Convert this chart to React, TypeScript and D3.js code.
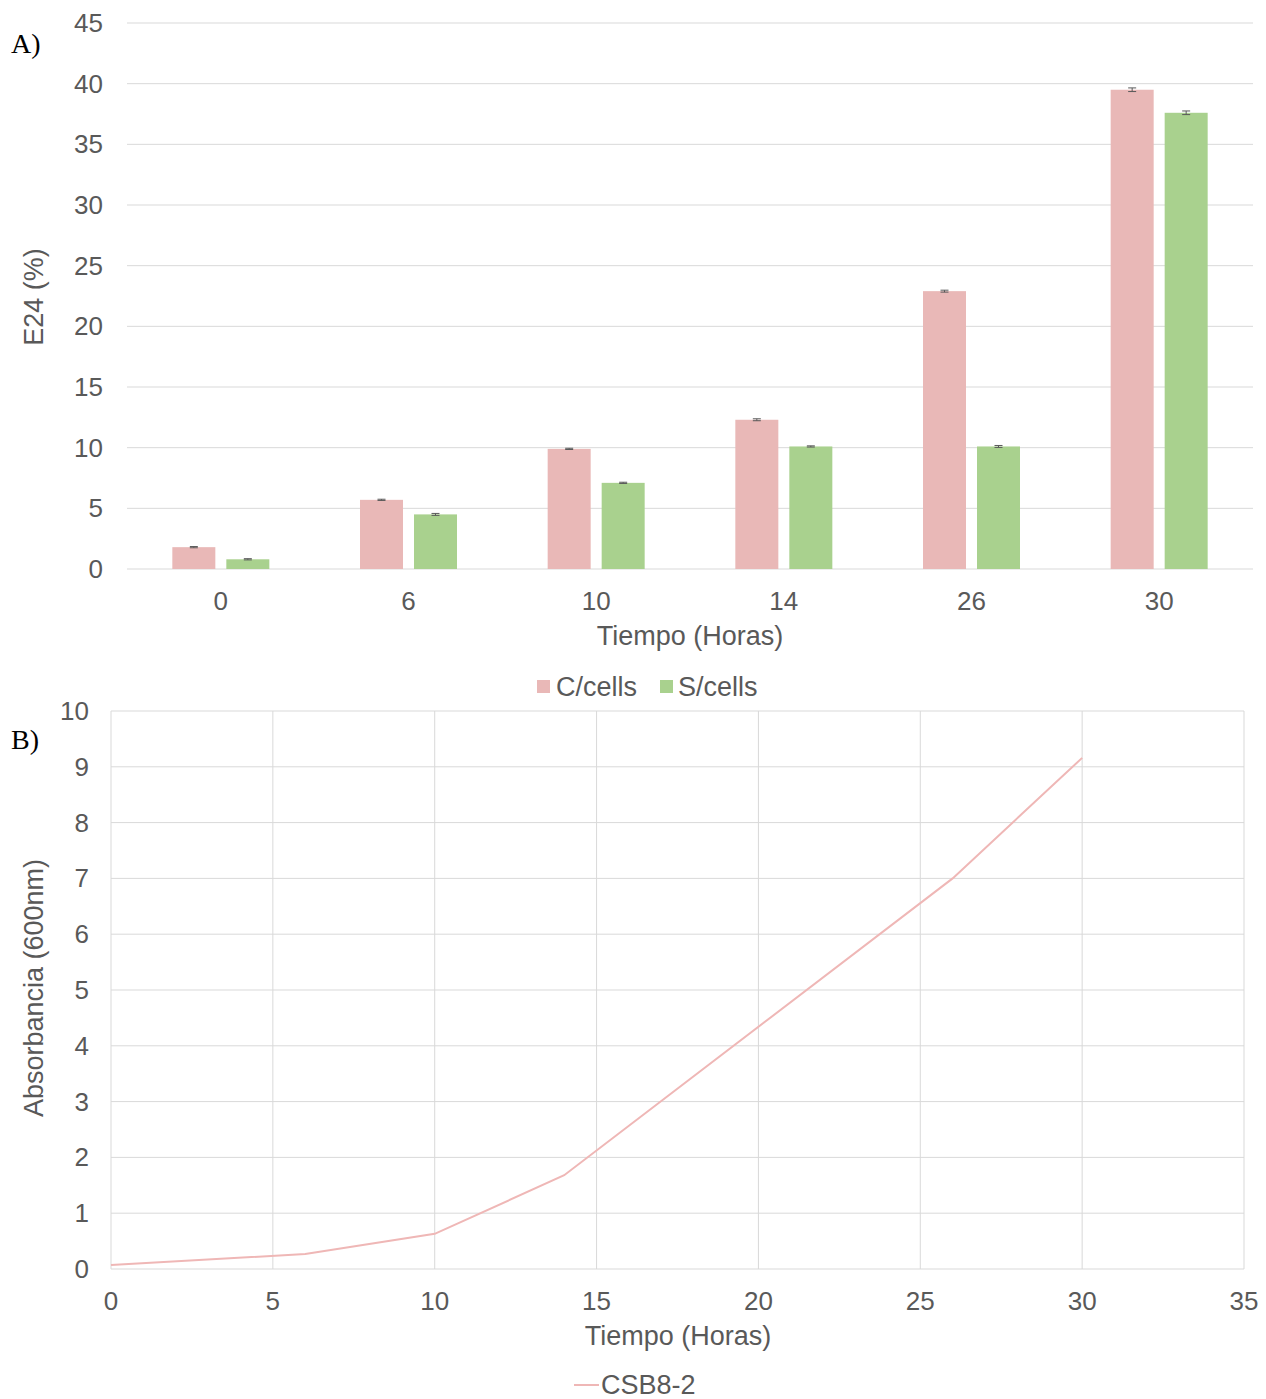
import React from "react";
import * as d3 from "d3";

const categories = ["0", "6", "10", "14", "26", "30"];
const cCells = [1.8, 5.7, 9.9, 12.3, 22.9, 39.5];
const sCells = [0.8, 4.5, 7.1, 10.1, 10.1, 37.6];
const cErr = [0.05, 0.05, 0.05, 0.08, 0.08, 0.15];
const sErr = [0.05, 0.08, 0.05, 0.05, 0.08, 0.15];
const yTicksA = [0, 5, 10, 15, 20, 25, 30, 35, 40, 45];

const timeB = [0, 6, 10, 14, 26, 30];
const absB = [0.07, 0.27, 0.63, 1.68, 7.0, 9.16];
const xTicksB = [0, 5, 10, 15, 20, 25, 30, 35];
const yTicksB = [0, 1, 2, 3, 4, 5, 6, 7, 8, 9, 10];

const PINK = "#e9b8b7";
const GREEN = "#a9d18e";
const GRID = "#d9d9d9";
const TXT = "#595959";
const FONT = "'Liberation Sans', Arial, sans-serif";
const TICK = 26;
const TITLE = 27;

export default function App() {
  // Chart A
  const aL = 127, aR = 1253, aTop = 23, aBot = 569;
  const xA = d3.scaleBand().domain(categories).range([aL, aR]).paddingInner(0).paddingOuter(0);
  const yA = d3.scaleLinear().domain([0, 45]).range([aBot, aTop]);
  const barW = 43;
  const gap = 11;

  // Chart B
  const bL = 111, bR = 1244, bTop = 711, bBot = 1269;
  const xB = d3.scaleLinear().domain([0, 35]).range([bL, bR]);
  const yB = d3.scaleLinear().domain([0, 10]).range([bBot, bTop]);
  const line = d3.line<number>().x((_, i) => xB(timeB[i])).y((d) => yB(d));

  const errBar = (cx: number, v: number, e: number, key: string) => (
    <g key={key} stroke="#595959" strokeWidth={1}>
      <line x1={cx} x2={cx} y1={yA(v + e)} y2={yA(v - e)} />
      <line x1={cx - 4} x2={cx + 4} y1={yA(v + e)} y2={yA(v + e)} />
      <line x1={cx - 4} x2={cx + 4} y1={yA(v - e)} y2={yA(v - e)} />
    </g>
  );

  return (
    <svg width={1266} height={1399} style={{ position: "absolute", left: 0, top: 0, background: "#fff" }} fontFamily={FONT}>
      <rect x={0} y={0} width={1266} height={1399} fill="#fff" />
      {/* ===== Chart A ===== */}
      <text x={11} y={53} fontFamily="'Liberation Serif', 'Times New Roman', serif" fontSize={28} fill="#000">A)</text>
      {yTicksA.map((t) => (
        <g key={"ga" + t}>
          <line x1={aL} x2={aR} y1={yA(t)} y2={yA(t)} stroke={GRID} strokeWidth={1} />
          <text x={103} y={yA(t) + 9} textAnchor="end" fontSize={TICK} fill={TXT}>{t}</text>
        </g>
      ))}
      {categories.map((c, i) => {
        const cx = (xA(c) as number) + xA.bandwidth() / 2;
        const x1 = cx - gap / 2 - barW;
        const x2 = cx + gap / 2;
        return (
          <g key={"bar" + c}>
            <rect x={x1} y={yA(cCells[i])} width={barW} height={aBot - yA(cCells[i])} fill={PINK} />
            <rect x={x2} y={yA(sCells[i])} width={barW} height={aBot - yA(sCells[i])} fill={GREEN} />
            {errBar(x1 + barW / 2, cCells[i], cErr[i], "ec" + c)}
            {errBar(x2 + barW / 2, sCells[i], sErr[i], "es" + c)}
            <text x={cx} y={610} textAnchor="middle" fontSize={TICK} fill={TXT}>{c}</text>
          </g>
        );
      })}
      <text x={690} y={645} textAnchor="middle" fontSize={TITLE} fill={TXT}>Tiempo (Horas)</text>
      <text transform={`translate(43,297) rotate(-90)`} textAnchor="middle" fontSize={TITLE} fill={TXT}>E24 (%)</text>
      {/* legend A */}
      <rect x={537} y={680} width={13} height={13} fill={PINK} />
      <text x={556} y={696} fontSize={TITLE} fill={TXT}>C/cells</text>
      <rect x={660} y={680} width={13} height={13} fill={GREEN} />
      <text x={678} y={696} fontSize={TITLE} fill={TXT}>S/cells</text>

      {/* ===== Chart B ===== */}
      <text x={11} y={749} fontFamily="'Liberation Serif', 'Times New Roman', serif" fontSize={28} fill="#000">B)</text>
      {yTicksB.map((t) => (
        <g key={"gb" + t}>
          <line x1={bL} x2={bR} y1={yB(t)} y2={yB(t)} stroke={GRID} strokeWidth={1} />
          <text x={89} y={yB(t) + 9} textAnchor="end" fontSize={TICK} fill={TXT}>{t}</text>
        </g>
      ))}
      {xTicksB.map((t) => (
        <g key={"gx" + t}>
          <line x1={xB(t)} x2={xB(t)} y1={bTop} y2={bBot} stroke={GRID} strokeWidth={1} />
          <text x={xB(t)} y={1310} textAnchor="middle" fontSize={TICK} fill={TXT}>{t}</text>
        </g>
      ))}
      <path d={line(absB) || ""} fill="none" stroke="#efb7b6" strokeWidth={2} />
      <text x={678} y={1345} textAnchor="middle" fontSize={TITLE} fill={TXT}>Tiempo (Horas)</text>
      <text transform={`translate(43,988) rotate(-90)`} textAnchor="middle" fontSize={TITLE} fill={TXT}>Absorbancia (600nm)</text>
      {/* legend B */}
      <line x1={574} x2={599} y1={1385} y2={1385} stroke="#efb7b6" strokeWidth={2} />
      <text x={601} y={1394} fontSize={TITLE} fill={TXT}>CSB8-2</text>
    </svg>
  );
}
